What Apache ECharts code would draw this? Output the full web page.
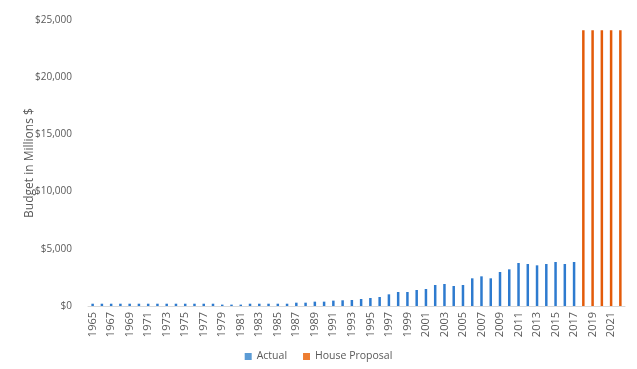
<!DOCTYPE html>
<html><head><meta charset="utf-8">
<script src="https://cdn.jsdelivr.net/npm/echarts@6/dist/echarts.min.js"></script>
<style>html,body{margin:0;padding:0;background:#fff}#c{width:637px;height:369px}</style>
</head><body><div id="c"></div>
<script>
const years = [];
for (let y = 1965; y <= 2022; y++) years.push(String(y));
const actual = [200,200,200,200,200,200,200,200,200,200,200,200,200,200,
  120,120,120,200,200,200,200,200,290,290,380,380,470,500,525,
  612,700,787,1020,1224,1224,1400,1487,1836,1923,1748,1836,2420,2593,2420,2972,3205,3759,3671,3555,3671,3846,3671,3846,
  null,null,null,null,null];
const house = [null,null,null,null,null,null,null,null,null,null,null,null,null,null,
  null,null,null,null,null,null,null,null,null,null,null,null,null,null,null,
  null,null,null,null,null,null,null,null,null,null,null,null,null,null,null,null,null,null,null,null,null,null,null,null,
  24100,24100,24100,24100,24100];
const yTicks = [0,5000,10000,15000,20000,25000];

const chart = echarts.init(document.getElementById('c'));
const font = '"Open Sans", "Noto Sans", Arial, sans-serif';
chart.setOption({
  animation:false,
  textStyle:{fontFamily:font},
  grid:{left:88,right:12,top:20,bottom:63},
  legend:{
    bottom:2,left:'center',itemWidth:7,itemHeight:7,itemGap:16,
    textStyle:{color:'#595959',fontSize:10.5,fontFamily:font},
    data:[{name:'Actual',icon:'rect',itemStyle:{color:'#5B9BD5'}},
          {name:'House Proposal',icon:'rect',itemStyle:{color:'#ED7D31'}}]
  },
  xAxis:{
    type:'category',data:years,
    axisLine:{lineStyle:{color:'#D9D9D9'}},
    axisTick:{show:false},
    axisLabel:{rotate:90,interval:1,color:'#595959',fontSize:11,margin:6,fontFamily:font}
  },
  yAxis:{
    type:'value',min:0,max:25000,interval:5000,
    name:'Budget in Millions $',nameLocation:'middle',nameGap:52,nameMoveOverlap:false,
    nameTextStyle:{color:'#595959',fontSize:12,fontFamily:font},
    splitLine:{show:false},axisLine:{show:false},axisTick:{show:false},
    axisLabel:{color:'#595959',fontSize:10,margin:16,fontFamily:font,
      formatter:v=>'$'+v.toLocaleString('en-US')}
  },
  series:[
    {name:'Actual',type:'bar',stack:'s',data:actual,barWidth:2.5,itemStyle:{color:'#2E7BCF'}},
    {name:'House Proposal',type:'bar',stack:'s',data:house,barWidth:2.5,itemStyle:{color:'#E35B0A'}}
  ]
});
</script></body></html>
